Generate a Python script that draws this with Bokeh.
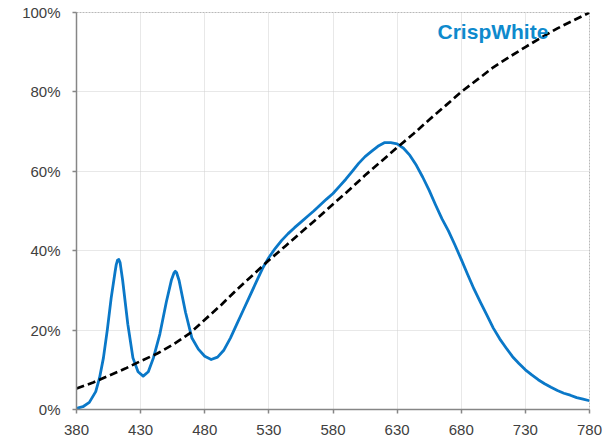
from bokeh.plotting import figure
from bokeh.models import Range1d, FixedTicker, PrintfTickFormatter, Label
from bokeh.embed import file_html
from bokeh.resources import INLINE

# Wavelength (nm) and relative spectral power (%) of the CrispWhite source
wavelength = [380, 385, 390, 395, 398, 401, 404, 407, 410, 411, 412, 413, 414,
              416, 420, 424, 428, 432, 436, 440, 445, 450, 454, 456, 457, 458,
              460, 465, 470, 475, 480, 485, 490, 495, 500, 505, 510, 515, 520,
              525, 530, 535, 540, 545, 550, 555, 560, 565, 570, 575, 580, 585,
              590, 595, 600, 605, 610, 615, 620, 625, 630, 635, 640, 645, 650,
              655, 660, 665, 670, 675, 680, 685, 690, 695, 700, 705, 710, 715,
              720, 725, 730, 735, 740, 745, 750, 755, 760, 765, 770, 775, 780]
spectrum = [0.3, 0.7, 1.8, 4.5, 8.0, 13.0, 20.0, 28.0, 34.5, 36.5, 37.6, 37.8,
            37.0, 32.5, 21.5, 13.0, 9.5, 8.4, 9.5, 13.0, 19.0, 27.0, 32.6, 34.4,
            34.8, 34.5, 32.5, 24.5, 18.0, 15.2, 13.4, 12.6, 13.2, 15.0, 18.0,
            21.5, 25.0, 28.5, 32.0, 35.5, 38.3, 40.6, 42.6, 44.3, 45.8, 47.2,
            48.6, 50.0, 51.5, 53.0, 54.4, 56.2, 58.0, 60.0, 62.0, 63.7, 65.0,
            66.3, 67.2, 67.2, 66.9, 65.8, 64.0, 61.5, 58.5, 55.2, 51.5, 48.0,
            45.0, 41.5, 37.8, 34.0, 30.3, 27.0, 23.8, 20.5, 17.8, 15.5, 13.3,
            11.6, 10.0, 8.7, 7.5, 6.5, 5.6, 4.8, 4.1, 3.6, 3.0, 2.6, 2.2]

# Reference curve (%) sampled at about 12.5 nm steps
ref_wavelength = [380, 393, 405, 418, 430, 443, 455, 468, 480, 493, 505, 518,
                  530, 543, 555, 568, 580, 593, 605, 618, 630, 643, 655, 668,
                  680, 693, 705, 718, 730, 743, 755, 768, 780]
ref_curve = [5.3, 6.8, 8.5, 10.3, 12.2, 14.1, 16.3, 19.1, 22.6, 26.4, 30.2,
             34.0, 37.6, 41.2, 44.6, 48.2, 51.7, 55.4, 59.0, 62.6, 66.0, 69.5,
             73.0, 76.6, 80.0, 83.2, 86.2, 88.9, 91.3, 93.8, 96.0, 98.1, 100.0]

x_ticks = [380, 430, 480, 530, 580, 630, 680, 730, 780]
y_ticks = [0, 20, 40, 60, 80, 100]
series_name = "CrispWhite"

FONT = "Liberation Sans"
AXIS_GREY = "#868686"
GRID_GREY = "#d0d0d0"

p = figure(width=615, height=442, output_backend="svg", toolbar_location=None,
           x_range=Range1d(380, 780), y_range=Range1d(0, 100),
           min_border_left=76, min_border_right=26,
           min_border_top=12, min_border_bottom=33)
p.background_fill_color = "white"
p.border_fill_color = "white"
p.outline_line_color = "#b8b8b8"
p.outline_line_dash = "2 1"
p.outline_line_width = 1

for ax in (p.xaxis[0], p.yaxis[0]):
    ax.axis_line_color = AXIS_GREY
    ax.axis_line_width = 1.5
    ax.major_tick_line_color = AXIS_GREY
    ax.major_tick_line_width = 1.5
    ax.major_tick_out = 4
    ax.major_tick_in = 0
    ax.minor_tick_line_color = None
    ax.major_label_text_font = FONT
    ax.major_label_text_font_size = "15px"
    ax.major_label_text_color = "#404040"

p.xaxis.ticker = FixedTicker(ticks=x_ticks)
p.xaxis.major_label_standoff = 11
p.yaxis.ticker = FixedTicker(ticks=y_ticks)
p.yaxis.formatter = PrintfTickFormatter(format="%d%%")
p.yaxis.major_label_standoff = 12

p.xgrid.ticker = FixedTicker(ticks=x_ticks)
p.ygrid.ticker = FixedTicker(ticks=y_ticks)
for g in (p.xgrid[0], p.ygrid[0]):
    g.grid_line_color = GRID_GREY
    g.grid_line_dash = "1 1"
    g.grid_line_width = 1

p.line(wavelength, spectrum, line_color="#0a78c8", line_width=2.8,
       line_join="round")
p.line(ref_wavelength, ref_curve, line_color="black", line_width=2.7,
       line_dash="8 4", line_join="round")

p.add_layout(Label(x=661.5, y=95.2, text=series_name, text_font=FONT,
                   text_font_size="21px", text_font_style="bold",
                   text_color="#0e8acd", text_baseline="alphabetic"))

open("out.html", "w").write(file_html(p, INLINE))
